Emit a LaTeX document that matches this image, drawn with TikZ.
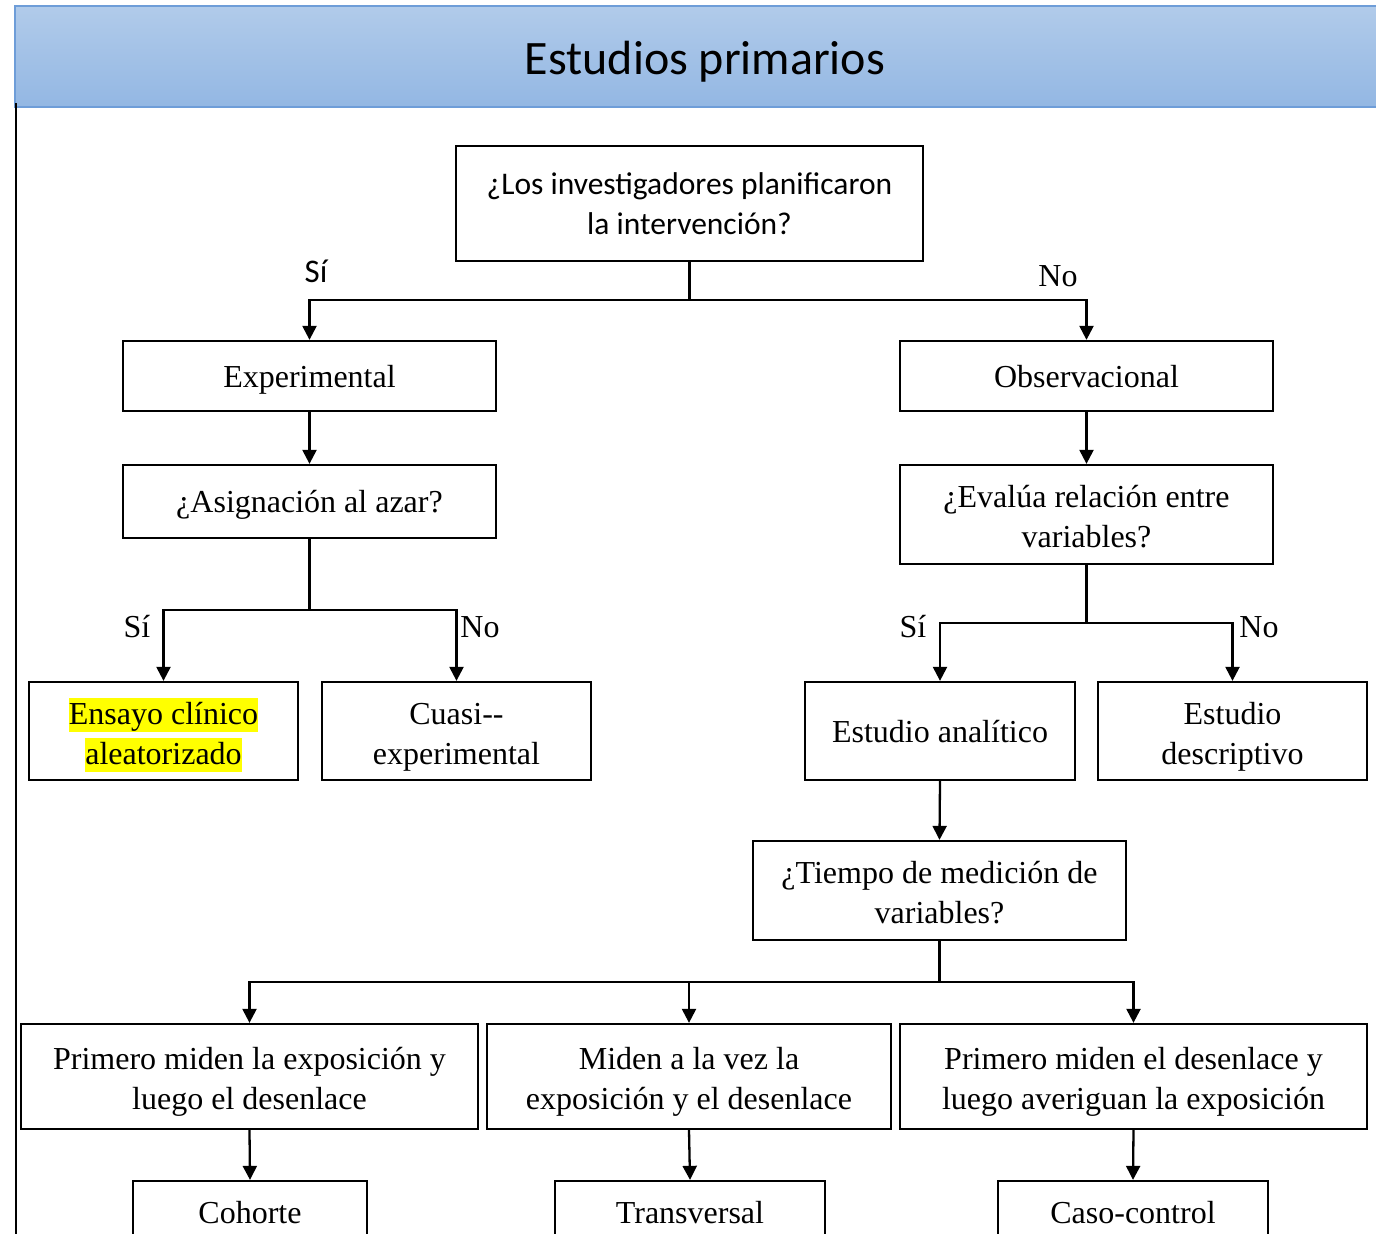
\documentclass[tikz,border=0pt]{standalone}
\usepackage{fontspec}
\setmainfont{Liberation Serif}
\newfontfamily\carl{Carlito}
\usetikzlibrary{arrows.meta}
\definecolor{hdtop}{HTML}{B1CBEA}
\definecolor{hdbot}{HTML}{93B7E3}
\definecolor{hdline}{HTML}{6E9DD8}
\definecolor{hl}{HTML}{FFFF00}
\newcommand{\hlt}[1]{{\setlength{\fboxsep}{0pt}\colorbox{hl}{\rule[-8pt]{0pt}{34pt}#1}}}
\begin{document}
\begin{tikzpicture}[x=1pt,y=1pt,
  bx/.style 2 args={draw, line width=2.3pt, minimum width=#1, minimum height=#2, inner sep=0pt, align=center, font=\fontsize{32}{40}\selectfont},
  one/.style={text height=30pt, text depth=8pt},
  two/.style={text height=74pt, text depth=8pt},
  lbl/.style={font=\fontsize{32}{40}\selectfont, inner sep=0pt},
  con/.style={line width=2.3pt},
  arr/.style={line width=2.3pt, -{Triangle[length=14pt,width=14pt]}}]
\useasboundingbox (0,0) rectangle (1376,-1234);
\clip (0,0) rectangle (1376,-1234);
% header
\shade[top color=hdtop, bottom color=hdbot] (15,-6) rectangle (1390,-107);
\draw[hdline, line width=1.5pt] (1390,-6) -- (15,-6) -- (15,-107) -- (1390,-107);
\node[font=\carl\fontsize{48}{56}\selectfont, inner sep=0pt] (title) at (705,-62) {Estudios primarios};
\draw[line width=2pt] (15.5,-103) -- (15.5,-1240);
% boxes
\node[bx={467pt}{115pt}, font=\carl\fontsize{31.5}{40}\selectfont] (q1) at (689.5,-203.5) {¿Los investigadores planificaron\\la intervención?};
\node[bx={373pt}{70pt}, one] (exp) at (309.5,-376) {Experimental};
\node[bx={373pt}{73pt}, one] (asig) at (309.5,-501.5) {¿Asignación al azar?};
\node[bx={269pt}{98pt}, two] (ens) at (163.5,-731) {\hlt{Ensayo clínico}\\\hlt{aleatorizado}};
\node[bx={269pt}{98pt}, two] (cua) at (456.5,-731) {Cuasi-{}-\\experimental};
\node[bx={373pt}{70pt}, one] (obs) at (1086.5,-376) {Observacional};
\node[bx={373pt}{99pt}, two] (eva) at (1086.5,-514.5) {¿Evalúa relación entre\\variables?};
\node[bx={270pt}{98pt}, one] (ana) at (940,-731) {Estudio analítico};
\node[bx={269pt}{98pt}, two] (des) at (1232.5,-731) {Estudio\\descriptivo};
\node[bx={373pt}{99pt}, two] (tie) at (939.5,-890.5) {¿Tiempo de medición de\\variables?};
\node[bx={457pt}{105pt}, two] (p1) at (249.5,-1076.5) {Primero miden la exposición y\\luego el desenlace};
\node[bx={404pt}{105pt}, two] (p2) at (689,-1076.5) {Miden a la vez la\\exposición y el desenlace};
\node[bx={467pt}{105pt}, two] (p3) at (1133.5,-1076.5) {Primero miden el desenlace y\\luego averiguan la exposición};
\node[bx={234pt}{62pt}, one] (coh) at (250,-1212) {Cohorte};
\node[bx={270pt}{62pt}, one] (tra) at (690,-1212) {Transversal};
\node[bx={270pt}{62pt}, one] (cas) at (1133,-1212) {Caso-control};
% junctions
\coordinate (j1) at (689.5,-300);
\coordinate (j2) at (309.5,-610);
\coordinate (j3) at (1086.5,-623);
\coordinate (j4) at (939.5,-982);
% connectors
\draw[con] (q1.south) -- (j1);
\draw[arr] (j1) -| (exp.north);
\draw[arr] (j1) -| (obs.north);
\draw[arr] (exp.south) -- (asig.north);
\draw[con] (asig.south) -- (j2);
\draw[arr] (j2) -| (ens.north);
\draw[arr] (j2) -| (cua.north);
\draw[arr] (obs.south) -- (eva.north);
\draw[con] (eva.south) -- (j3);
\draw[arr] (j3) -| (ana.north);
\draw[arr] (j3) -| (des.north);
\draw[arr] (ana.south) -- (tie.north);
\draw[con] (tie.south) -- (j4);
\draw[arr] (j4) -| (p1.north);
\draw[arr] (j4) -| (p2.north);
\draw[arr] (j4) -| (p3.north);
\draw[arr] (p1.south) -- (coh.north);
\draw[arr] (p2.south) -- (tra.north);
\draw[arr] (p3.south) -- (cas.north);
% labels
\node[lbl, font=\carl\fontsize{33}{40}\selectfont] (s1) at (316,-271) {Sí};
\node[lbl] (n1) at (1058,-276) {No};
\node[lbl] (s2) at (137,-627) {Sí};
\node[lbl] (n2) at (480,-627) {No};
\node[lbl] (s3) at (913,-627) {Sí};
\node[lbl] (n3) at (1259,-627) {No};
\end{tikzpicture}
\end{document}
